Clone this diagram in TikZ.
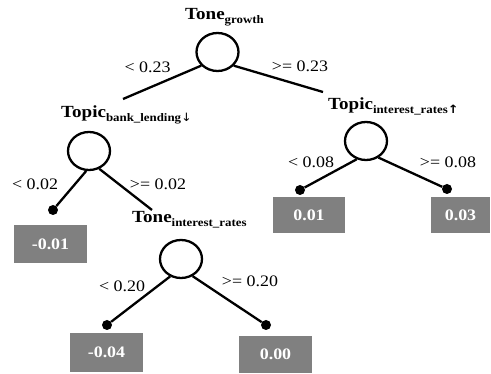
\documentclass[tikz,border=0pt]{standalone}
\usepackage{fontspec}
\setmainfont{Liberation Serif}
\newfontfamily\arrowfont{DejaVu Sans}
\usepackage{graphicx}
\usetikzlibrary{shapes.geometric}

\definecolor{leafgray}{RGB}{128,128,128}
\newcommand\stretchx[1]{\scalebox{1.12}[1]{#1}}
\newcommand\subtxt[1]{\raisebox{-3.5pt}{\fontsize{11.5}{13}\selectfont #1}}
\newcommand\uparr{{\arrowfont\bfseries ↑}}
\newcommand\downarr{{\arrowfont\mdseries ↓}}

\tikzset{
  split/.style={draw, line width=2.3pt, ellipse, minimum width=42pt, minimum height=38pt, inner sep=0pt},
  leafdot/.style={circle, fill=black, inner sep=0pt, minimum size=10pt},
  leaf/.style={fill=leafgray, text=white, font=\bfseries\fontsize{16}{19}\selectfont,
               minimum width=73pt, minimum height=38pt, inner sep=0pt},
  edge/.style={line width=2.3pt},
  cond/.style={font=\fontsize{16}{19}\selectfont, inner sep=0pt, anchor=base},
  feat/.style={font=\bfseries\fontsize{17}{20}\selectfont, inner sep=0pt, anchor=base west},
}

\begin{document}
\begin{tikzpicture}[x=1pt, y=-1pt]
\useasboundingbox (0,0) rectangle (491,374);

% split nodes
\node[split] (r)  at (217.5,52) {};
\node[split] (bl) at (89,151) {};
\node[split] (ti) at (181,259) {};
\node[split] (ir) at (366,141) {};

% feature labels
\node[feat] (lr)  at (185,20)  {\stretchx{Tone\subtxt{growth}}};
\node[feat] (lbl) at (61,118)  {\stretchx{Topic\subtxt{bank\_lending\downarr}}};
\node[feat] (lir) at (328,110) {\stretchx{Topic\subtxt{interest\_rates\uparr}}};
\node[feat] (lti) at (132,223) {\stretchx{Tone\subtxt{interest\_rates}}};

% branch ends
\coordinate (rl) at (123,99);
\coordinate (rr) at (323,92);
\coordinate (blr) at (152,210);
\node[leafdot] (d1) at (53,210) {};
\node[leafdot] (d2) at (300,190) {};
\node[leafdot] (d3) at (447,189) {};
\node[leafdot] (d4) at (107,325) {};
\node[leafdot] (d5) at (266,325) {};

% branches
\draw[edge] (r.220) -- (rl);
\draw[edge] (r.320) -- (rr);
\draw[edge] (bl.262) -- (d1);
\draw[edge] (bl.300) -- (blr);
\draw[edge] (ir.243) -- (d2);
\draw[edge] (ir.307) -- (d3);
\draw[edge] (ti.238) -- (d4);
\draw[edge] (ti.304) -- (d5);

% split conditions
\node[cond] (c1) at (147.5,73) {\stretchx{< 0.23}};
\node[cond] (c2) at (300,72)   {\stretchx{>= 0.23}};
\node[cond] (c3) at (35,190)   {\stretchx{< 0.02}};
\node[cond] (c4) at (158,190)  {\stretchx{>= 0.02}};
\node[cond] (c5) at (311,168)  {\stretchx{< 0.08}};
\node[cond] (c6) at (448,168)  {\stretchx{>= 0.08}};
\node[cond] (c7) at (122,292)  {\stretchx{< 0.20}};
\node[cond] (c8) at (250,287)  {\stretchx{>= 0.20}};

% leaf values
\node[leaf] (v1) at (50.5,244)  {\stretchx{-0.01}};
\node[leaf, minimum width=72pt, minimum height=36pt] (v2) at (309,215) {\stretchx{0.01}};
\node[leaf, minimum width=59pt, minimum height=36pt] (v3) at (460.5,215) {\stretchx{0.03}};
\node[leaf, minimum height=39pt] (v4) at (106.5,352.5) {\stretchx{-0.04}};
\node[leaf, minimum height=37pt] (v5) at (275.5,354.5) {\stretchx{0.00}};
\end{tikzpicture}
\end{document}
